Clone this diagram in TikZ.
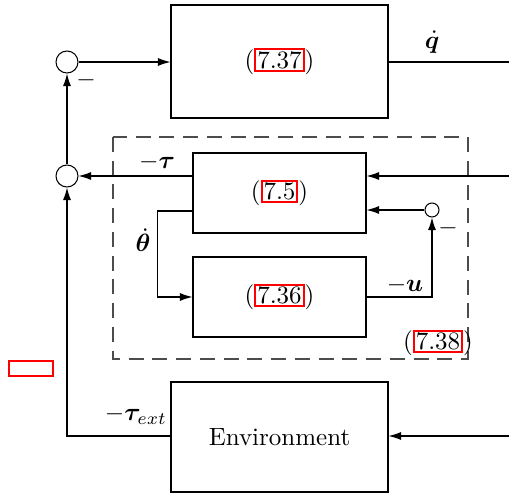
\documentclass[tikz,border=0pt]{standalone}
\usepackage{amsmath,bm}
\usetikzlibrary{arrows.meta}
\newcommand{\eqlink}[1]{{\setlength{\fboxsep}{0.4pt}\setlength{\fboxrule}{0.8pt}\fcolorbox{red}{white}{#1}}}
\tikzset{
  bigblk/.style={draw, minimum width=86.8pt, minimum height=45.2pt, inner sep=0pt},
  smblk/.style={draw, minimum width=69.2pt, minimum height=32pt, inner sep=0pt},
  sumpt/.style={draw, circle, minimum size=8.8pt, inner sep=0pt},
  ctrlbound/.style={draw=black!70, dash pattern=on 6pt off 3.5pt}
}
\begin{document}
\begin{tikzpicture}[x=0.4pt, y=-0.4pt, line width=0.42pt,
                    >={Latex[length=5pt,width=3.2pt]}]
  \useasboundingbox (0,0) rectangle (509,499);

  % Blocks
  \node[bigblk] (kin) at (279.5,61.5) {(\eqlink{7.37})};
  \node[smblk] (ctrl) at (279.5,193) {(\eqlink{7.5})};
  \node[smblk] (obs) at (279.5,297) {(\eqlink{7.36})};
  \node[bigblk, minimum height=44pt] (env) at (279.5,437) {Environment};

  % Summing junctions
  \node[sumpt] (s1) at (67,62) {};
  \node[sumpt] (s2) at (67,176) {};
  \node[sumpt, minimum size=5.6pt] (s3) at (432,210) {};

  % Controller boundary
  \draw[ctrlbound] (113,137) rectangle (468,359);
  \node (lbl38) at (438,343) {(\eqlink{7.38})};

  % Free ends
  \coordinate (qout) at (509,62);
  \coordinate (fin) at (509,176);
  \coordinate (ein) at (509,436);

  % Connectors
  \draw[->] (s1) -- (kin.west |- s1);
  \draw (kin.east |- qout) -- (qout);
  \draw[->] (fin) -- (ctrl.east |- fin);
  \draw[->] (ctrl.west |- s2) -- (s2);
  \draw[->] (s2) -- (s1);
  \draw[->] (s3) -- (ctrl.east |- s3);
  \draw[->] ([yshift=-7.2pt]ctrl.west) -- ++(-35,0) |- (obs.west);
  \draw[->] (obs.east) -| (s3.south);
  \draw[->] (ein) -- (env.east |- ein);
  \draw[->] (env.west |- ein) -| (s2.south);

  % Signal labels
  \node (lblq) at (432,42) {$\dot{\bm q}$};
  \node (lbltau) at (157,162) {$-\bm\tau$};
  \node (lbltheta) at (143,240) {$\dot{\bm\theta}$};
  \node (lblu) at (405,285) {$-\bm u$};
  \node (lblext) at (136,415) {$-\bm\tau_{ext}$};
  \node (neg1) at (86,80) {$-$};
  \node (neg3) at (448,228) {$-$};

  % Broken reference
  \draw[red, line width=0.9pt] (9,361) rectangle (53,376);
\end{tikzpicture}
\end{document}
